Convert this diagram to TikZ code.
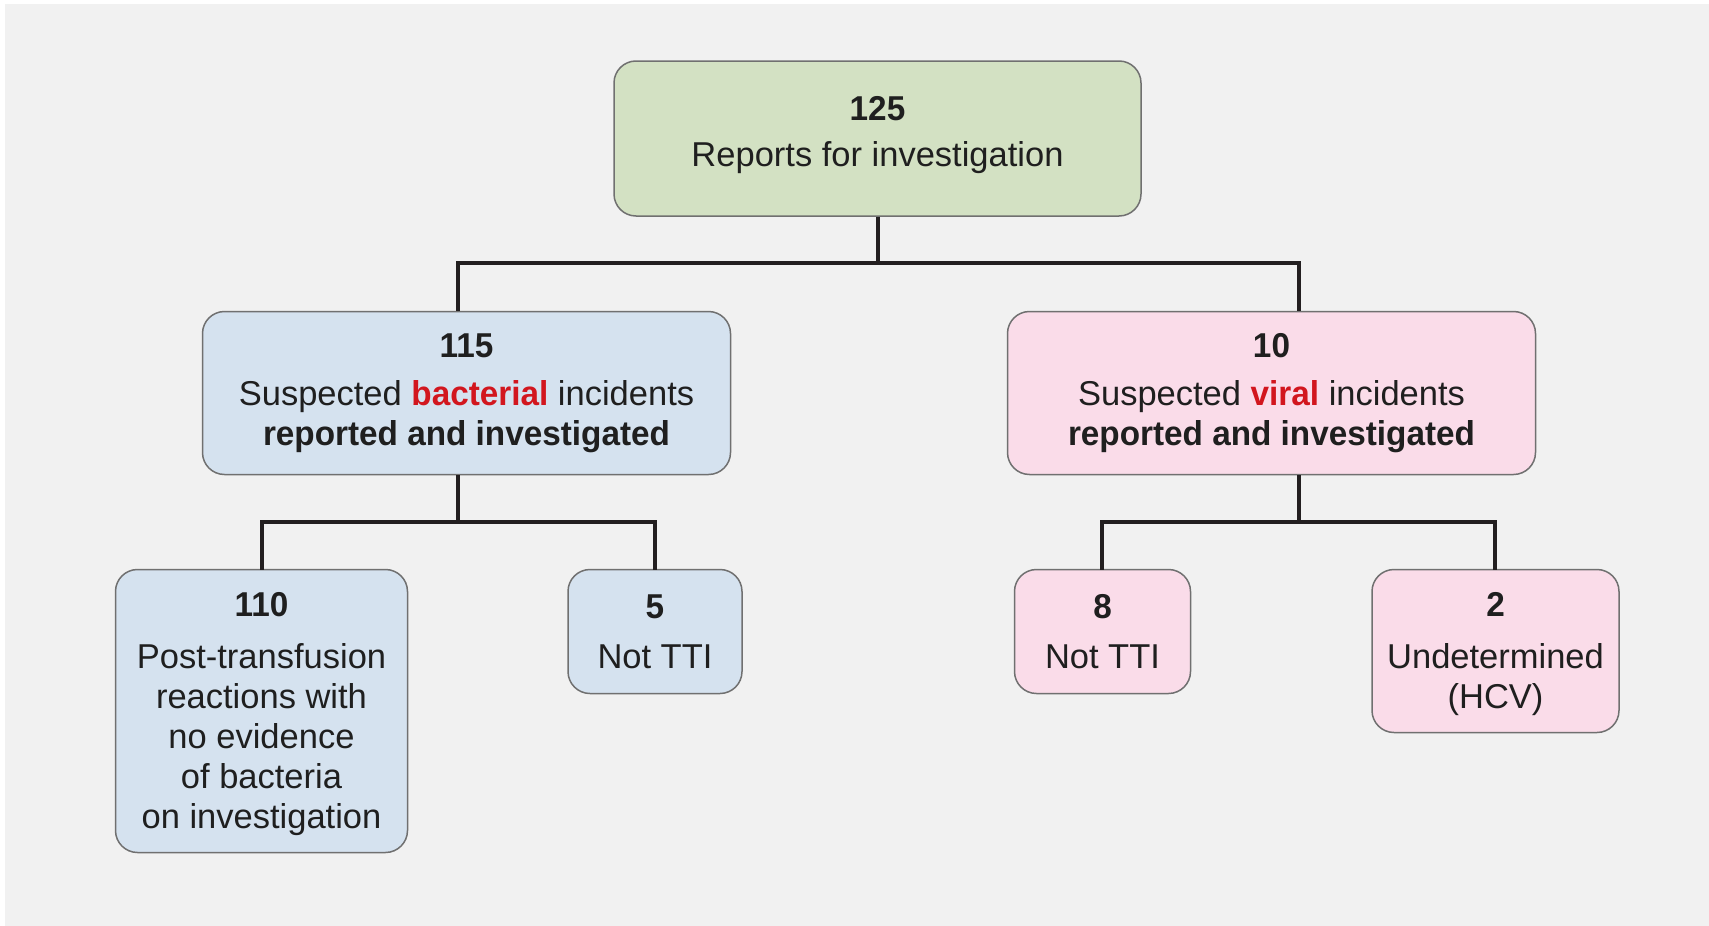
\documentclass[tikz,border=0pt]{standalone}
\usepackage{fontspec}
\setmainfont{Liberation Sans}[BoldFeatures={FakeStretch=0.965}]
\definecolor{panel}{HTML}{F1F1F1}
\definecolor{gfill}{HTML}{D3E1C3}
\definecolor{bfill}{HTML}{D5E2EF}
\definecolor{pfill}{HTML}{FADCE9}
\definecolor{bordergray}{HTML}{707070}
\definecolor{textdark}{HTML}{1F1F1F}
\definecolor{hired}{HTML}{D2161E}
\definecolor{linedark}{HTML}{231F20}
\tikzset{
  box/.style={draw=bordergray, line width=1.5pt, rounded corners=22pt, align=center,
    inner sep=0pt, font=\fontsize{34.5}{40}\selectfont, text=textdark},
  conn/.style={draw=linedark, line width=4pt, line join=miter}
}
\begin{document}
\begin{tikzpicture}[x=1pt,y=-1pt]
\useasboundingbox (0,0) rectangle (1709,926);
\fill[white] (0,0) rectangle (1709,926);
\fill[panel] (5,4) rectangle (1709,926);

\node[box, fill=gfill, minimum width=527pt, minimum height=155pt] (top) at (877.5,138.5)
  {\textbf{125}\\[6pt] Reports for investigation\rule[-14pt]{0pt}{1pt}};
\node[box, fill=bfill, minimum width=528pt, minimum height=163pt] (bact) at (466.5,393)
  {\textbf{115}\\[8pt] Suspected \textcolor{hired}{\textbf{bacterial}} incidents\\ \textbf{reported and investigated}};
\node[box, fill=pfill, minimum width=528pt, minimum height=163pt] (viral) at (1271.5,393)
  {\textbf{10}\\[8pt] Suspected \textcolor{hired}{\textbf{viral}} incidents\\ \textbf{reported and investigated}};
\node[box, fill=bfill, minimum width=292pt, minimum height=283pt] (b110) at (261.5,711)
  {\rule{0pt}{31pt}\textbf{110}\\[12pt] Post-transfusion\\ reactions with\\ no evidence\\ of bacteria\\ on investigation};
\node[box, fill=bfill, minimum width=174pt, minimum height=124pt] (b5) at (655,631.5)
  {\textbf{5}\\[10pt] Not TTI};
\node[box, fill=pfill, minimum width=176pt, minimum height=124pt] (v8) at (1102.5,631.5)
  {\textbf{8}\\[10pt] Not TTI};
\node[box, fill=pfill, minimum width=247pt, minimum height=163pt] (v2) at (1495.5,651)
  {\rule{0pt}{31pt}\textbf{2}\\[12pt] Undetermined\\ (HCV)};

\coordinate (j1) at (877.5,262.7);
\coordinate (bin) at (458,311);
\coordinate (vin) at (1299,311);
\coordinate (bout) at (458,475);
\coordinate (j2) at (458,522);
\coordinate (vout) at (1299,475);
\coordinate (j3) at (1299,522);
\coordinate (c110) at (261.6,569.5);
\coordinate (c5) at (655,569.5);
\coordinate (c8) at (1101.6,569.5);
\coordinate (c2) at (1495.4,569.5);

\draw[conn] (top.south) -- (j1) -| (bin);
\draw[conn] (j1) -| (vin);
\draw[conn] (bout) -- (j2) -| (c110);
\draw[conn] (j2) -| (c5);
\draw[conn] (vout) -- (j3) -| (c8);
\draw[conn] (j3) -| (c2);
\end{tikzpicture}
\end{document}
